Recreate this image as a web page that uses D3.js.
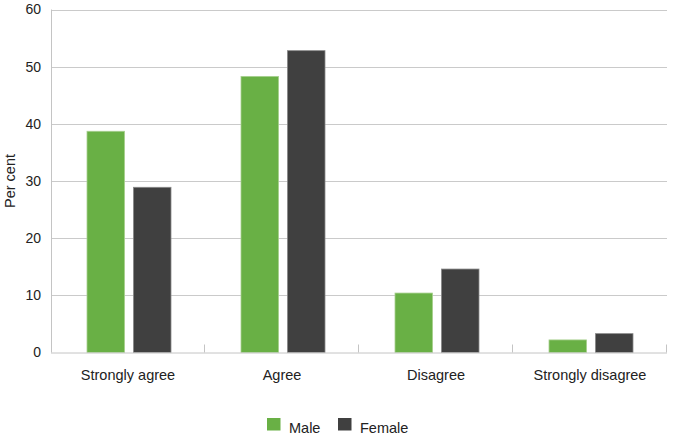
<!DOCTYPE html>
<html><head><meta charset="utf-8">
<script src="https://cdn.jsdelivr.net/npm/d3@7"></script>
<style>body{margin:0;background:#fff}svg{display:block;font-family:"Liberation Sans",Arial,sans-serif}</style>
</head><body><svg id="c" width="675" height="438"></svg>
<script>
const categories = ["Strongly agree", "Agree", "Disagree", "Strongly disagree"];
const seriesNames = ["Male", "Female"];
const maleValues = [38.7, 48.3, 10.4, 2.2];
const femaleValues = [28.9, 52.8, 14.6, 3.3];
const yTicks = [0, 10, 20, 30, 40, 50, 60];
const colors = ["#69b045", "#404040"];

const svg = d3.select("#c");
const m = {l: 51, r: 667, t: 9.5, b: 352.5};
const x = d3.scaleBand().domain(categories).range([m.l, m.r]).paddingInner(0).paddingOuter(0);
const y = d3.scaleLinear().domain([0, 60]).range([m.b, m.t]);
const x1 = d3.scaleBand().domain(seriesNames).range([36, 120]).paddingInner(0.19);

// gridlines
svg.append("g").selectAll("line").data(yTicks.filter(d => d > 0)).join("line")
  .attr("x1", m.l).attr("x2", m.r)
  .attr("y1", d => Math.round(y(d)) + 0.5).attr("y2", d => Math.round(y(d)) + 0.5)
  .attr("stroke", "#cacaca").attr("stroke-width", 1);

// y axis
const ya = svg.append("g").attr("transform", `translate(${m.l},0)`)
  .call(d3.axisLeft(y).tickValues(yTicks).tickSize(0).tickPadding(10));
ya.select(".domain").attr("stroke", "#c4c4c4").attr("d", `M0.5,${m.t}V${m.b}`);
ya.selectAll("text").attr("font-size", 14).attr("fill", "#222").attr("font-family", "Liberation Sans, Arial, sans-serif");

// bars
const data = categories.map((c, i) => ({c, vals: [maleValues[i], femaleValues[i]]}));
const g = svg.append("g").selectAll("g").data(data).join("g")
  .attr("transform", d => `translate(${x(d.c)},0)`);
g.selectAll("rect").data(d => d.vals.map((v, j) => ({s: seriesNames[j], v, j}))).join("rect")
  .attr("x", d => x1(d.s)).attr("width", x1.bandwidth())
  .attr("y", d => y(d.v)).attr("height", d => y(0) - y(d.v))
  .attr("fill", d => colors[d.j])
  .attr("stroke", d => d.j === 0 ? "#a8d090" : "#8a8a8a").attr("stroke-width", 0.8);

// x axis
const xa = svg.append("g").attr("transform", `translate(0,${m.b})`)
  .call(d3.axisBottom(x).tickSize(0).tickPadding(17));
xa.select(".domain").attr("stroke", "#c4c4c4").attr("d", `M${m.l},0.5H${m.r}`);
xa.selectAll("text").attr("font-size", 14.5).attr("fill", "#222").attr("font-family", "Liberation Sans, Arial, sans-serif");
// band boundary ticks (upward)
const bounds = categories.slice(1).map(c => x(c)).concat([m.r]);
svg.append("g").selectAll("line").data(bounds).join("line")
  .attr("x1", d => Math.round(d) - 0.5).attr("x2", d => Math.round(d) - 0.5)
  .attr("y1", m.b - 8).attr("y2", m.b)
  .attr("stroke", "#c4c4c4");

// y label
svg.append("text").attr("transform", `translate(15,${(m.t + m.b) / 2}) rotate(-90)`)
  .attr("text-anchor", "middle").attr("font-size", 14.5).attr("fill", "#222").text("Per cent");

// legend
const lg = svg.append("g").attr("transform", "translate(267,418)");
const items = lg.selectAll("g").data(seriesNames).join("g")
  .attr("transform", (d, i) => `translate(${i * 71},0)`);
items.append("rect").attr("width", 13.5).attr("height", 12.5).attr("fill", (d, i) => colors[i]);
items.append("text").attr("x", 22).attr("y", 14.5).attr("font-size", 14.5).attr("fill", "#222").text(d => d);
</script></body></html>
